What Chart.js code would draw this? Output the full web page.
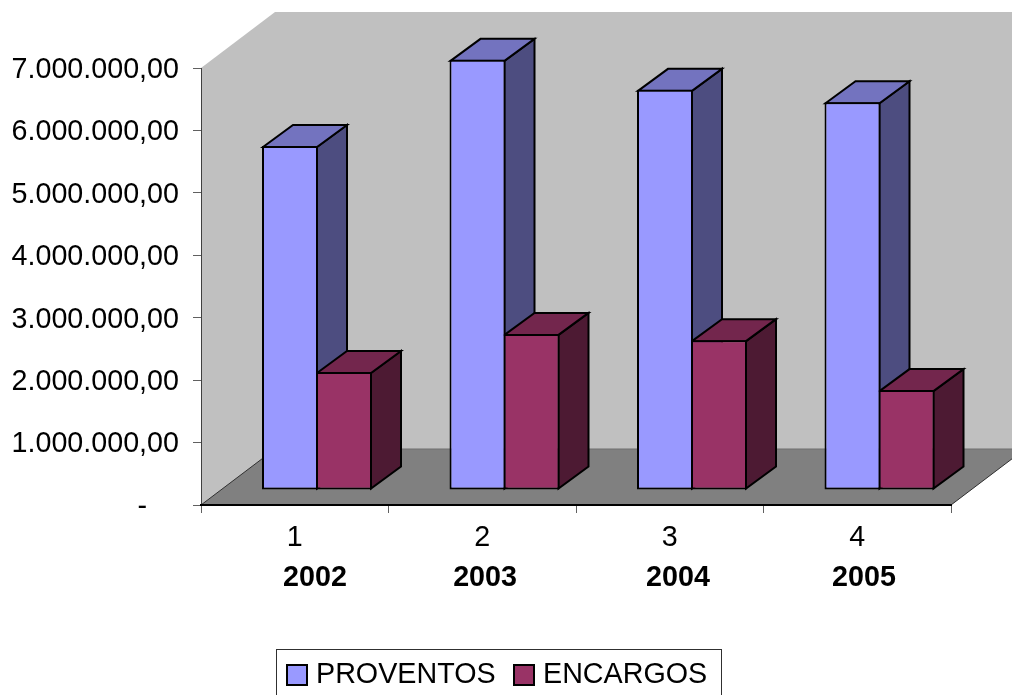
<!DOCTYPE html>
<html>
<head>
<meta charset="utf-8">
<title>Proventos e encargos</title>
<style>
  html, body { margin: 0; padding: 0; background: #fff; overflow: hidden; }
  canvas { display: block; }
</style>
</head>
<body>
<canvas id="myChart" width="1012" height="695"></canvas>
<script src="https://cdn.jsdelivr.net/npm/chart.js@4"></script>
<script>
const categories = ["1", "2", "3", "4"];
const years = ["2002", "2003", "2004", "2005"];
// the year captions sit loosely under the categories, not centred on them
const yearSlots = [0.608, 1.515, 2.544, 3.536];
const proventos = [5510000, 6890000, 6410000, 6210000];
const encargos = [1890000, 2500000, 2400000, 1600000];

const fontName = "'Liberation Sans', Arial, sans-serif";
const fontSize = 28.7;

// depth of the box behind the axes, and of each column
const boxDepth = { x: 74, y: 56 };
const barDepth = { x: 30, y: 22 };
// columns stand a little way into the floor
const barShift = { x: 22.25, y: 15 };

function fillShape(ctx, points, fill, stroke, lineWidth) {
  ctx.beginPath();
  points.forEach((p, i) => (i ? ctx.lineTo(p[0], p[1]) : ctx.moveTo(p[0], p[1])));
  ctx.closePath();
  if (fill) {
    ctx.fillStyle = fill;
    ctx.fill();
  }
  if (stroke) {
    ctx.strokeStyle = stroke;
    ctx.lineWidth = lineWidth;
    ctx.lineJoin = "miter";
    ctx.stroke();
  }
}

function drawLine(ctx, x1, y1, x2, y2, color) {
  ctx.beginPath();
  ctx.moveTo(x1, y1);
  ctx.lineTo(x2, y2);
  ctx.strokeStyle = color;
  ctx.lineWidth = 1;
  ctx.stroke();
}

const box3d = {
  id: "box3d",
  // wall and floor go under the axes
  beforeDraw(chart) {
    const { ctx, chartArea: a } = chart;
    const dx = boxDepth.x;
    const dy = boxDepth.y;
    ctx.save();
    fillShape(ctx, [
      [a.left, a.top],
      [a.left + dx, a.top - dy],
      [a.right + dx, a.top - dy],
      [a.right + dx, a.bottom - dy],
      [a.right, a.bottom],
      [a.left, a.bottom],
    ], "#C0C0C0");
    fillShape(ctx, [
      [a.left, a.bottom],
      [a.left + dx, a.bottom - dy],
      [a.right + dx, a.bottom - dy],
      [a.right, a.bottom],
    ], "#808080");
    drawLine(ctx, a.left + dx, a.bottom - dy, a.right + dx, a.bottom - dy, "#6e6e6e");
    drawLine(ctx, a.left, a.bottom, a.left + dx, a.bottom - dy, "#303030");
    drawLine(ctx, a.right, a.bottom, a.right + dx, a.bottom - dy, "#303030");
    ctx.restore();
  },
  // top and side of every column first, the library then draws the fronts
  beforeDatasetsDraw(chart) {
    const ctx = chart.ctx;
    const d = barDepth;
    ctx.save();
    ctx.translate(barShift.x, -barShift.y);
    chart.data.datasets.forEach((ds, i) => {
      chart.getDatasetMeta(i).data.forEach((bar) => {
        const l = bar.x - bar.width / 2 + 1;
        const r = bar.x + bar.width / 2 - 1;
        const t = bar.y + 1;
        const b = bar.base - 1;
        fillShape(ctx, [[r, t], [r + d.x, t - d.y], [r + d.x, b - d.y], [r, b]], ds.sideColor, "#000", 2);
        fillShape(ctx, [[l, t], [l + d.x, t - d.y], [r + d.x, t - d.y], [r, t]], ds.topColor, "#000", 2);
      });
    });
  },
  afterDatasetsDraw(chart) {
    chart.ctx.restore();
  },
};

const boxedLegend = {
  id: "boxedLegend",
  afterDraw(chart) {
    const ctx = chart.ctx;
    const entries = [
      { swatch: 287, text: 316 },
      { swatch: 514, text: 543 },
    ];
    ctx.save();
    ctx.strokeStyle = "#303030";
    ctx.lineWidth = 1;
    ctx.strokeRect(276.5, 649.5, 445, 60);
    ctx.font = fontSize + "px " + fontName;
    ctx.textBaseline = "middle";
    ctx.textAlign = "left";
    chart.data.datasets.forEach((ds, i) => {
      ctx.fillStyle = ds.backgroundColor;
      ctx.strokeStyle = "#000";
      ctx.lineWidth = 2;
      ctx.fillRect(entries[i].swatch, 665, 20, 20);
      ctx.strokeRect(entries[i].swatch, 665, 20, 20);
      ctx.fillStyle = "#000";
      ctx.fillText(ds.label, entries[i].text, 675);
    });
    ctx.restore();
  },
};

function moneyLabel(value) {
  if (value === 0) return "-    ";
  return value.toLocaleString("pt-BR", { minimumFractionDigits: 2, maximumFractionDigits: 2 });
}

const chart = new Chart("myChart", {
  type: "bar",
  data: {
    labels: categories,
    datasets: [
      {
        label: "PROVENTOS",
        data: proventos,
        backgroundColor: "#9999FF",
        topColor: "#7373BF",
        sideColor: "#4D4D80",
      },
      {
        label: "ENCARGOS",
        data: encargos,
        backgroundColor: "#993366",
        topColor: "#73264D",
        sideColor: "#4D1A33",
      },
    ],
  },
  options: {
    responsive: false,
    animation: false,
    layout: { padding: { top: 68, right: 61, left: 0, bottom: 94 } },
    datasets: {
      bar: {
        categoryPercentage: 0.576,
        // slightly over 1 so neighbouring columns share one outline
        barPercentage: 56 / 54,
        borderColor: "#000",
        borderWidth: 2,
        borderSkipped: false,
        inflateAmount: 0,
        clip: false,
      },
    },
    plugins: {
      legend: { display: false },
      title: { display: false },
      tooltip: { enabled: false },
    },
    scales: {
      y: {
        min: 0,
        max: 7000000,
        afterFit(scale) {
          scale.width = 201;
        },
        border: { color: "#404040", width: 1 },
        grid: { drawOnChartArea: false, drawTicks: true, tickLength: 8, tickColor: "#606060" },
        ticks: {
          stepSize: 1000000,
          padding: 14,
          labelOffset: 2,
          color: "#000",
          font: { family: fontName, size: fontSize },
          callback: moneyLabel,
        },
      },
      x: {
        afterFit(scale) {
          scale.height = 48;
        },
        border: { color: "#000", width: 2 },
        grid: { drawOnChartArea: false, drawTicks: true, tickLength: 8, tickColor: "#606060" },
        ticks: {
          padding: 8,
          color: "#000",
          maxRotation: 0,
          font: { family: fontName, size: fontSize },
        },
      },
      years: {
        type: "linear",
        position: "bottom",
        offset: false,
        min: 0,
        max: 4,
        afterBuildTicks(scale) {
          scale.ticks = yearSlots.map((value) => ({ value }));
        },
        afterFit(scale) {
          scale.height = 48;
        },
        border: { display: false },
        grid: { display: false },
        ticks: {
          padding: 0,
          color: "#000",
          maxRotation: 0,
          autoSkip: false,
          font: { family: fontName, size: fontSize, weight: "bold" },
          callback: (value, i) => years[i],
        },
      },
    },
  },
  plugins: [box3d, boxedLegend],
});
</script>
</body>
</html>
